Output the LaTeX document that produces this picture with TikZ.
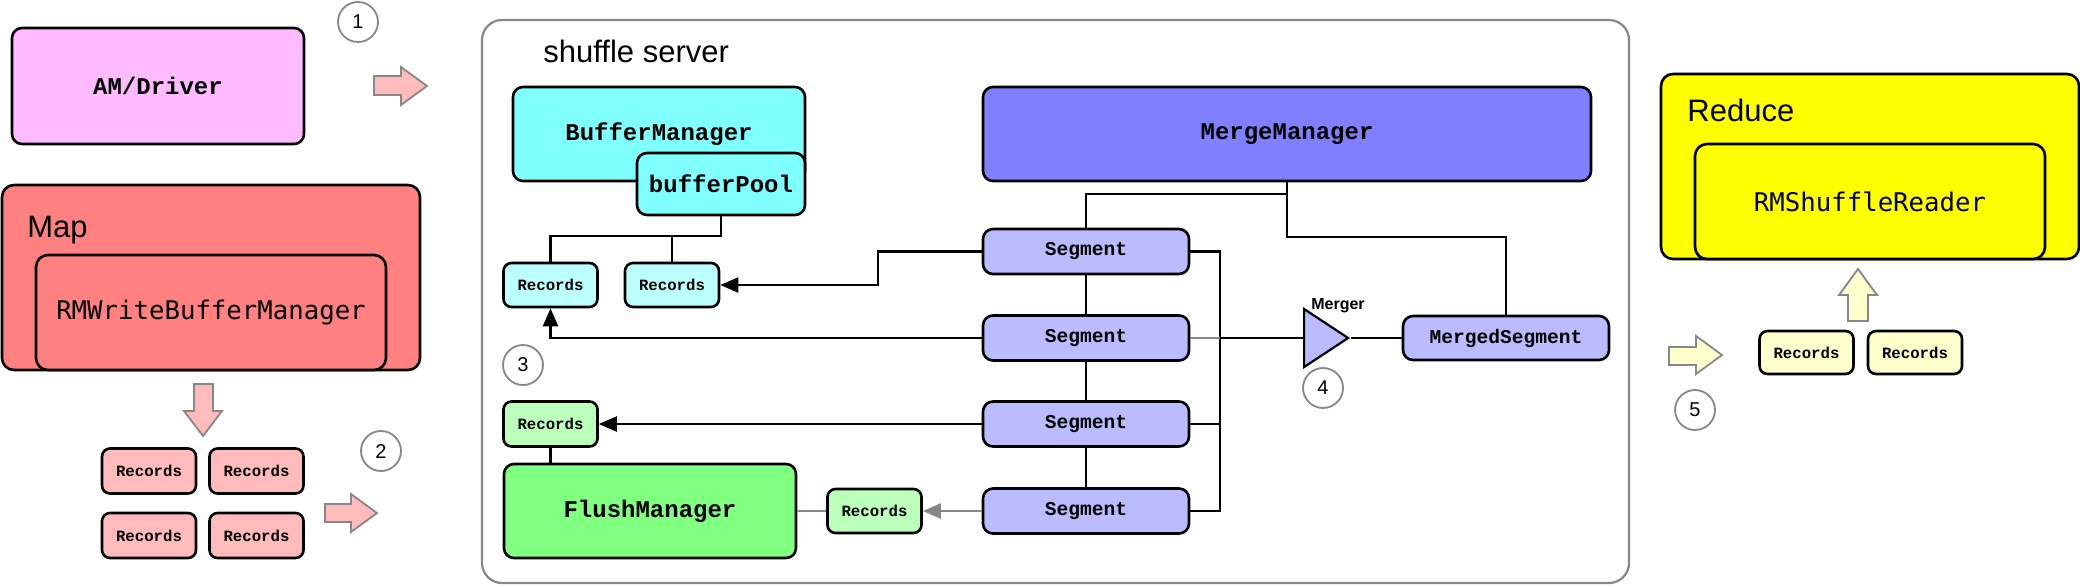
\documentclass[tikz,border=0pt]{standalone}
\usepackage{fontspec}
\setmainfont{Liberation Sans}
\newfontfamily\courbf{Liberation Mono}
\newfontfamily\menlo{DejaVu Sans Mono}
\usepackage{tikz}
\usetikzlibrary{calc,positioning,arrows.meta,shapes.geometric}

\definecolor{drvpink}{HTML}{FFBBFF}
\definecolor{mapred}{HTML}{FF8080}
\definecolor{recpink}{HTML}{FFBBBB}
\definecolor{bufcyan}{HTML}{80FFFF}
\definecolor{reccyan}{HTML}{BBFFFF}
\definecolor{mrgblue}{HTML}{8080FF}
\definecolor{segblue}{HTML}{BBBBFF}
\definecolor{flgreen}{HTML}{80FF80}
\definecolor{recgreen}{HTML}{BBFFBB}
\definecolor{redyel}{HTML}{FFFF00}
\definecolor{recyel}{HTML}{FFFFCC}

\begin{document}
\begin{tikzpicture}[
    x=0.5pt, y=-0.5pt,
    >={Triangle[length=9pt, width=7.5pt]},
    box/.style={draw=black, line width=1.3pt, rounded corners=5pt, inner sep=0pt,
                align=center, font=\courbf\bfseries\fontsize{12}{14}\selectfont},
    mgr/.style={box, minimum width=146pt, minimum height=47pt},
    host/.style={box, rounded corners=6pt, minimum width=209pt, minimum height=92.5pt},
    sub/.style={box, rounded corners=6pt, minimum width=175pt, minimum height=57.5pt,
                font=\menlo\fontsize{12.85}{15}\selectfont},
    rec/.style={box, rounded corners=4pt, minimum width=47pt, minimum height=22.5pt,
                font=\courbf\bfseries\fontsize{7.85}{9}\selectfont},
    seg/.style={box, fill=segblue, minimum width=103pt, minimum height=22.5pt,
                font=\courbf\bfseries\fontsize{9.8}{11}\selectfont},
    numc/.style={circle, draw=black!47, line width=0.9pt, fill=white, minimum size=20pt,
                 inner sep=0pt, font=\fontsize{10}{12}\selectfont},
    fat/.style={draw=black!47, line width=0.9pt, line join=miter},
    trig/.style={isosceles triangle, isosceles triangle stretches, draw=black, line width=1.1pt,
                 fill=segblue, minimum width=29pt, minimum height=22pt, inner sep=0pt},
    hdr/.style={anchor=base west, inner sep=0pt, font=\fontsize{15.5}{18}\selectfont},
    lbl/.style={inner sep=0pt, font=\bfseries\fontsize{8}{9.6}\selectfont},
    wire/.style={line width=1.15pt},
    gwire/.style={line width=1.15pt, draw=black!47}
  ]
    \useasboundingbox (0,0) rectangle (2080,586);

    % left: driver and map side
    \node[box, fill=drvpink, minimum width=146pt, minimum height=58pt] (drv) at (158,86) {AM/Driver};
    \node[numc] (n1) at (358,22) {1};
    \draw[fat, fill=recpink] (374,76) -- (401,76) -- (401,67) -- (427,86) -- (401,105)
      -- (401,95) -- (374,95) -- cycle;

    \node[host, fill=mapred] (map) at (211,277.5) {};
    \node[hdr] (maplbl) at (27,237) {Map};
    \node[sub, fill=mapred] (wbuf) at (211,312.5) {RMWriteBufferManager};
    \draw[fat, fill=recpink] (194,384) -- (194,411) -- (184,411) -- (203,436) -- (222,411)
      -- (213,411) -- (213,384) -- cycle;

    \node[rec, fill=recpink] (recP1) at (149,471) {Records};
    \node[rec, fill=recpink] (recP2) at (256.5,471) {Records};
    \node[rec, fill=recpink] (recP3) at (149,535.5) {Records};
    \node[rec, fill=recpink] (recP4) at (256.5,535.5) {Records};
    \node[numc] (n2) at (381,451) {2};
    \draw[fat, fill=recpink] (325,504) -- (351,504) -- (351,494) -- (377,513) -- (351,532)
      -- (351,522) -- (325,522) -- cycle;

    % shuffle server
    \node[draw=black!47, line width=1.1pt, rounded corners=10pt, minimum width=573.5pt,
          minimum height=281.5pt, inner sep=0pt] (server) at (1055.5,301.5) {};
    \node[hdr] (srvlbl) at (543,62) {shuffle server};

    \node[mgr, fill=bufcyan] (bufmgr) at (659,134) {BufferManager};
    \node[box, fill=bufcyan, minimum width=84pt, minimum height=31pt] (bufpool) at (721,184) {bufferPool};
    \node[rec, fill=reccyan, minimum height=22pt] (recC1) at (550.5,285) {Records};
    \node[rec, fill=reccyan, minimum height=22pt] (recC2) at (672,285) {Records};
    \node[numc] (n3) at (523,365) {3};
    \node[rec, fill=recgreen] (recG1) at (550.5,424) {Records};
    \node[mgr, fill=flgreen] (flush) at (650,511) {FlushManager};
    \node[rec, fill=recgreen, minimum height=22pt] (recG2) at (874.5,511) {Records};

    \node[box, fill=mrgblue, minimum width=304pt, minimum height=47pt] (mrgmgr) at (1287,134) {MergeManager};
    \node[seg] (seg1) at (1086,251.5) {Segment};
    \node[seg] (seg2) at (1086,338) {Segment};
    \node[seg] (seg3) at (1086,424) {Segment};
    \node[seg] (seg4) at (1086,511) {Segment};
    \node[trig, anchor=west] (merger) at (1303,338) {};
    \node[lbl] (mrglbl) at (1338,306) {Merger};
    \node[numc] (n4) at (1323,388) {4};
    \node[seg, minimum height=22pt] (mrgseg) at (1506,338) {MergedSegment};

    % right: reduce side
    \node[host, fill=redyel] (reduce) at (1870,166.5) {};
    \node[hdr] (redlbl) at (1687,121) {Reduce};
    \node[sub, fill=redyel] (reader) at (1870,201.5) {RMShuffleReader};
    \draw[fat, fill=recyel] (1848,321) -- (1848,295) -- (1839,295) -- (1858,269) -- (1877,295)
      -- (1868,295) -- (1868,321) -- cycle;
    \node[rec, fill=recyel, minimum height=21.5pt] (recY1) at (1806.5,352.5) {Records};
    \node[rec, fill=recyel, minimum height=21.5pt] (recY2) at (1915,352.5) {Records};
    \draw[fat, fill=recyel] (1669,347) -- (1696,347) -- (1696,336) -- (1722,355) -- (1696,374)
      -- (1696,365) -- (1669,365) -- cycle;
    \node[numc] (n5) at (1695,410) {5};

    % connectors
    \coordinate (bpj) at ($(bufpool.south)+(0,20)$);
    \draw[wire] (bufpool.south) -- (bpj) -| (recC1.north);
    \draw[wire] (recC2.north) -- (recC2.north |- bpj);
    \draw[wire,->] (seg1.west) -- ++(-104,0) |- (recC2.east);
    \draw[wire,->] (seg2.west) -| (recC1.south);
    \draw[wire,->] (seg3.west) -- (recG1.east);
    \draw[wire] (recG1.south) -- (recG1.south |- flush.north);
    \draw[gwire] (flush.east) -- (recG2.west);
    \draw[gwire,->] (seg4.west) -- (recG2.east);

    \coordinate (mmj) at ($(mrgmgr.south)+(0,12)$);
    \draw[wire] (mrgmgr.south) -- (mmj) -| (seg1.north);
    \draw[wire] (mmj) -- ++(0,43) -| (mrgseg.north);
    \draw[wire] (seg1) -- (seg2);
    \draw[wire] (seg2) -- (seg3);
    \draw[wire] (seg3) -- (seg4);
    \coordinate (bus) at ($(seg1.east)+(30,0)$);
    \draw[wire] (seg1.east) -- (bus) |- (seg4.east);
    \draw[wire] (seg3.east) -- (seg3.east -| bus);
    \draw[gwire] (seg2.east) -- (seg2.east -| bus);
    \draw[wire] (seg2.east -| bus) -- (merger.west);
    \draw[wire] (merger.apex) -- (mrgseg.west);
  \end{tikzpicture}
\end{document}
